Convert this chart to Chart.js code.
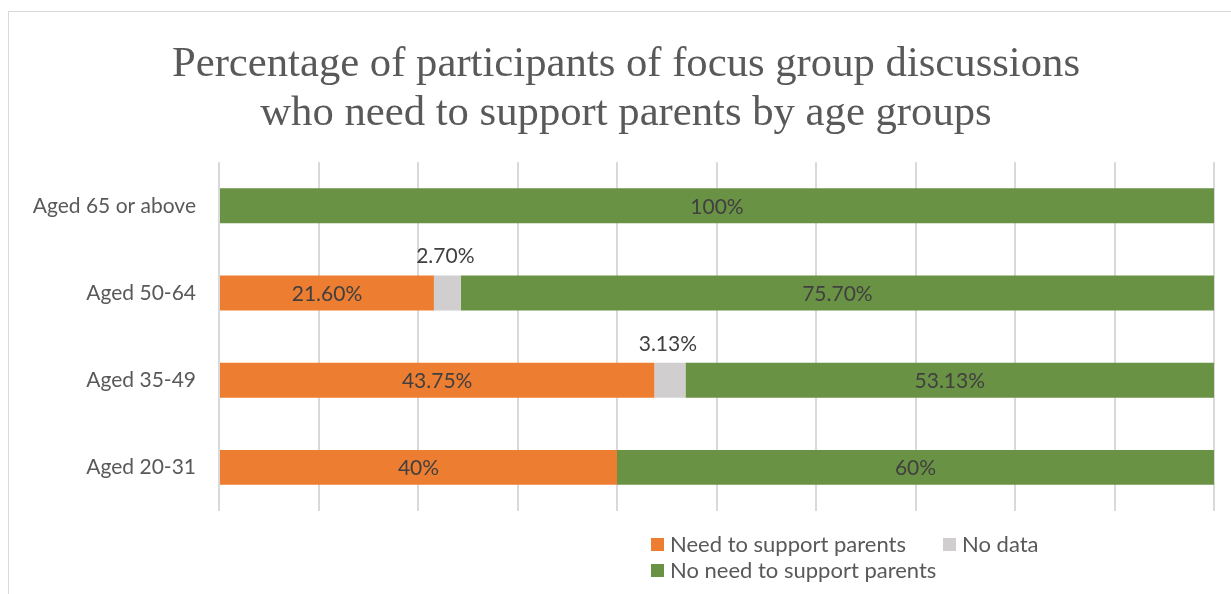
<!DOCTYPE html>
<html>
<head>
<meta charset="utf-8">
<script src="https://cdn.jsdelivr.net/npm/chart.js@4.4.1/dist/chart.umd.min.js"></script>
<style>
  html, body { margin: 0; padding: 0; background: #fff; overflow: hidden; }
  #wrap { position: relative; width: 1231px; height: 594px; }
  #frame {
    position: absolute; left: 8px; top: 11px; width: 1260px; height: 620px;
    border-top: 1px solid #d9d9d9; border-left: 1px solid #d9d9d9;
  }
  #chart { position: absolute; left: 0; top: 0; }
  #legend {
    position: absolute; left: 651px; top: 531px; width: 440px;
    display: flex; flex-wrap: wrap; font-family: Lato, sans-serif;
    font-size: 22px; color: #595959; line-height: 26px;
  }
  .item { display: flex; align-items: center; margin-right: 37px; white-space: nowrap; }
  .box { width: 13px; height: 13px; margin-right: 6px; }
</style>
</head>
<body>
<div id="wrap">
  <div id="frame"></div>
  <canvas id="chart" width="1231" height="594"></canvas>
  <div id="legend"></div>
</div>
<script>
const ageGroups = ["Aged 65 or above", "Aged 50-64", "Aged 35-49", "Aged 20-31"];
const needSupport = [0, 21.6, 43.75, 40];
const noData = [0, 2.7, 3.13, 0];
const noNeedSupport = [100, 75.7, 53.13, 60];

const seriesNames = ["Need to support parents", "No data", "No need to support parents"];
const seriesColors = ["#ED7D31", "#D0CECE", "#6A9245"];

function fmtPct(v) {
    return Number.isInteger(v) ? v + "%" : v.toFixed(2) + "%";
}

// value labels: centred in the segment, small segments get theirs above the bar
const barLabels = {
    id: "barLabels",
    afterDatasetsDraw(chart) {
        const ctx = chart.ctx;
        ctx.save();
        ctx.font = "21px Lato";
        ctx.fillStyle = "#404040";
        ctx.textAlign = "center";
        ctx.textBaseline = "middle";
        chart.data.datasets.forEach(function (ds, di) {
            chart.getDatasetMeta(di).data.forEach(function (bar, i) {
                const v = ds.data[i];
                if (!v) return;
                const cx = (bar.x + bar.base) / 2;
                if (v < 5) {
                    ctx.fillText(fmtPct(v), cx - 2, bar.y - bar.height / 2 - 19);
                } else {
                    ctx.fillText(fmtPct(v), cx, bar.y + 1);
                }
            });
        });
        ctx.restore();
    },
};

// centre the title over the whole frame rather than the padded canvas
const titleShift = {
    id: "titleShift",
    afterLayout(chart) {
        chart.titleBlock.left = 38;
    },
};

const chart = new Chart(document.getElementById("chart"), {
    type: "bar",
    data: {
        labels: ageGroups,
        datasets: [
            { label: seriesNames[0], data: needSupport, backgroundColor: seriesColors[0] },
            { label: seriesNames[1], data: noData, backgroundColor: seriesColors[1] },
            { label: seriesNames[2], data: noNeedSupport, backgroundColor: seriesColors[2] },
        ],
    },
    options: {
        indexAxis: "y",
        responsive: false,
        animation: false,
        categoryPercentage: 0.4,
        barPercentage: 1,
        layout: { padding: { left: 10, right: 17, top: 0, bottom: 83 } },
        plugins: {
            legend: { display: false },
            tooltip: { enabled: false },
            title: {
                display: true,
                text: [
                    "Percentage of participants of focus group discussions",
                    "who need to support parents by age groups",
                ],
                color: "#595959",
                font: { family: "'Liberation Serif', serif", size: 42.7, weight: "normal", lineHeight: 1.15 },
                padding: { top: 40, bottom: 24 },
            },
        },
        scales: {
            x: {
                stacked: true,
                min: 0,
                max: 100,
                ticks: { display: false, stepSize: 10 },
                grid: { color: "#d9d9d9", lineWidth: 2, drawTicks: false },
                border: { display: false },
            },
            y: {
                stacked: true,
                grid: { display: false, drawTicks: false },
                border: { display: false },
                ticks: {
                    color: "#595959",
                    padding: 23,
                    font: { family: "Lato", size: 21 },
                },
                afterFit(scale) { scale.width = 209; },
            },
        },
    },
    plugins: [barLabels, titleShift],
});

// two-row legend under the plot
const legendEl = document.getElementById("legend");
chart.data.datasets.forEach(function (ds) {
    const item = document.createElement("div");
    item.className = "item";
    const box = document.createElement("span");
    box.className = "box";
    box.style.background = ds.backgroundColor;
    const txt = document.createElement("span");
    txt.textContent = ds.label;
    item.appendChild(box);
    item.appendChild(txt);
    legendEl.appendChild(item);
});
</script>
</body>
</html>
